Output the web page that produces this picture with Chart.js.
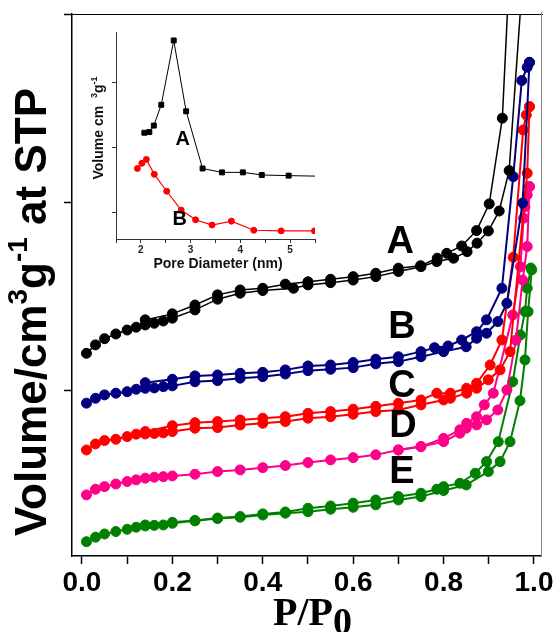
<!DOCTYPE html>
<html>
<head>
<meta charset="utf-8">
<script src="https://cdn.jsdelivr.net/npm/chart.js@4.4.0/dist/chart.umd.min.js"></script>
<style>
  html, body { margin: 0; padding: 0; background: #fff; }
  #wrap { position: relative; width: 557px; height: 632px; }
  #main { position: absolute; left: 0; top: 0; }
  #inset { position: absolute; left: 80px; top: 20px; }
</style>
</head>
<body>
<div id="wrap">
  <canvas id="main" width="557" height="632"></canvas>
  <canvas id="inset" width="240" height="260"></canvas>
</div>
<script>
// N2 isotherms: relative pressure (P/P0) and adsorbed volume, adsorption + desorption branch per sample
const aAdsP = [0.01,0.03,0.05,0.075,0.10,0.12,0.14,0.16,0.18,0.20,0.25,0.30,0.35,0.40,0.468,0.50,0.55,0.60,0.65,0.70,0.75,0.785,0.822,0.852,0.874,0.899,0.923,0.945,0.981];
const aAdsV = [120.0,124.5,127.8,130.3,132.4,133.9,135.1,136.0,137.2,138.7,143.1,148.8,152.0,153.4,154.6,156.4,157.6,159.0,160.8,163.5,166.1,168.8,170.6,174.1,178.6,185.1,195.7,217.2,340];
const aDesP = [0.949,0.93,0.901,0.873,0.84,0.807,0.786,0.749,0.70,0.65,0.60,0.55,0.50,0.45,0.40,0.35,0.30,0.25,0.20,0.14];
const aDesV = [340,245.1,199.5,185.3,177.1,173.2,170.6,166.6,165.3,162.6,160.8,159.4,158.1,156.8,154.6,153.7,151.1,145.7,141.0,137.8];

const bAdsP = [0.01,0.03,0.05,0.075,0.10,0.12,0.14,0.16,0.18,0.20,0.25,0.30,0.35,0.40,0.45,0.50,0.55,0.60,0.65,0.70,0.75,0.80,0.85,0.873,0.895,0.92,0.94,0.975,0.99];
const bAdsV = [93.5,96.1,97.9,98.8,99.6,100.9,101.4,101.6,102.3,102.7,104.9,105.5,106.8,107.6,109.0,110.8,111.5,112.4,114.4,115.6,118.2,120.9,123.5,128.0,130.7,136.9,146.6,200,274.8];
const bDesP = [0.99,0.985,0.973,0.954,0.929,0.895,0.873,0.84,0.81,0.78,0.75,0.70,0.65,0.60,0.55,0.50,0.45,0.40,0.35,0.30,0.25,0.20,0.14];
const bDesV = [274.8,272.2,265.1,214.0,154.6,137.8,131.5,127.1,123.9,123.0,120.9,118.2,116.9,115.1,113.8,113.3,111.2,109.9,109.4,108.5,108.0,106.2,104.4];

const cAdsP = [0.01,0.03,0.05,0.075,0.10,0.12,0.14,0.16,0.18,0.20,0.25,0.30,0.35,0.40,0.45,0.50,0.55,0.60,0.65,0.70,0.75,0.80,0.815,0.851,0.873,0.899,0.925,0.947,0.985,0.99];
const cAdsV = [68.6,71.8,73.6,74.3,75.7,77.0,77.1,77.4,77.7,78.4,80.2,80.5,81.9,82.8,83.7,85.5,86.3,87.6,89.0,89.9,92.6,95.2,96.1,98.8,101.4,105.9,111.2,120.9,215.8,251.2];
const cDesP = [0.99,0.983,0.976,0.954,0.929,0.903,0.873,0.851,0.815,0.785,0.75,0.70,0.65,0.60,0.55,0.50,0.45,0.40,0.35,0.30,0.25,0.20,0.14];
const cDesV = [251.2,246.8,238.8,171.1,127.1,113.8,104.1,101.4,98.8,98.8,95.2,93.4,91.8,90.3,89.0,88.1,86.3,85.5,84.6,83.7,83.1,81.5,78.4];

const dAdsP = [0.01,0.03,0.05,0.075,0.10,0.12,0.14,0.16,0.18,0.20,0.25,0.30,0.35,0.40,0.45,0.50,0.55,0.60,0.65,0.70,0.75,0.80,0.836,0.85,0.873,0.895,0.92,0.94,0.96,0.975,0.985,0.99];
const dAdsV = [44.7,47.7,49.1,50.5,51.8,52.7,53.6,54.1,54.4,54.8,55.7,57.1,58.0,59.2,60.3,61.9,63.3,64.5,66.0,68.6,70.4,73.0,77.5,80.2,81.9,84.6,89.9,100.5,127,159,176.8,208.7];
const dDesP = [0.99,0.985,0.98,0.977,0.97,0.953,0.91,0.89,0.873,0.851,0.836,0.80,0.75,0.70];
const dDesV = [208.7,204.3,198.0,191.9,166.1,140.4,98.8,92.6,86.3,82.8,79.3,74.8,70.4,68.6];

const eAdsP = [0.01,0.03,0.05,0.075,0.10,0.12,0.14,0.16,0.18,0.20,0.25,0.30,0.35,0.40,0.45,0.50,0.55,0.60,0.65,0.70,0.75,0.80,0.85,0.899,0.925,0.947,0.969,0.98,0.987,0.995];
const eAdsV = [19.8,22.2,23.9,25.2,26.4,27.5,28.2,28.5,28.7,29.6,30.9,32.1,32.8,34.0,35.0,35.8,37.1,38.1,39.4,42.0,43.8,47.0,50.0,57.1,62.4,73.0,94.8,116.5,142.2,164.4];
const eDesP = [0.993,0.985,0.98,0.97,0.953,0.921,0.895,0.87,0.836,0.80,0.785,0.75,0.70,0.65,0.60,0.55,0.50,0.45,0.40,0.35,0.30,0.25,0.20,0.14];
const eDesV = [165.4,154.6,142.2,129.8,104.9,73.0,62.4,56.2,50.9,49.1,47.7,45.6,43.8,42.0,40.3,38.8,37.6,35.6,34.6,33.2,32.4,31.1,30.1,28.7];

const sampleNames = ['A', 'B', 'C', 'D', 'E'];
const sampleColors = ['#000000', '#000080', '#ff0000', '#ff0088', '#008000'];
const labelP = [0.704, 0.708, 0.708, 0.71, 0.708];
const labelV = [178.7, 134.0, 102.1, 80.9, 56.4];

const xTicks = [0, 0.1, 0.2, 0.3, 0.4, 0.5, 0.6, 0.7, 0.8, 0.9, 1.0];
const yTicks = [100, 200, 300];

// pore size distribution (inset)
const poreA = [2.07, 2.17, 2.26, 2.41, 2.66, 2.91, 3.24, 3.63, 4.05, 4.43, 4.97, 5.7];
const psdA  = [1.23, 1.24, 1.34, 1.66, 2.65, 1.56, 0.68, 0.62, 0.62, 0.58, 0.57, 0.56];
const poreB = [1.93, 2.02, 2.11, 2.27, 2.52, 2.81, 3.10, 3.43, 3.82, 4.27, 4.82, 5.49];
const psdB  = [0.68, 0.76, 0.82, 0.59, 0.33, 0.04, -0.11, -0.19, -0.13, -0.27, -0.28, -0.28];
const insetXTicks = [1.5, 2, 2.5, 3, 3.5, 4, 4.5, 5, 5.5];
const insetYTicks = [0, 1, 2];
const insetLabelX = [2.84, 2.78];
const insetLabelY = [1.12, -0.11];

const SANS = '"Liberation Sans", Arial, sans-serif';
const SERIF = '"Liberation Serif", "Times New Roman", serif';

Chart.defaults.font.family = SANS;
Chart.defaults.color = '#000';

const pts = (xs, ys) => xs.map((x, i) => ({ x: x, y: ys[i] }));

function lineSet(data, color, width, radius, style) {
    return {
        data: data,
        showLine: true,
        borderColor: color,
        backgroundColor: color,
        borderWidth: width,
        pointRadius: radius,
        pointStyle: style || 'circle',
        pointBackgroundColor: color,
        pointBorderColor: color,
        pointBorderWidth: 1
    };
}

// draws text pieces one after another (for super/subscripts)
function drawParts(ctx, parts, x, y) {
    let cx = x;
    parts.forEach(p => {
        ctx.font = p.font;
        ctx.fillText(p.t, cx, y + (p.dy || 0));
        cx += ctx.measureText(p.t).width;
    });
}
function partsWidth(ctx, parts) {
    let w = 0;
    parts.forEach(p => { ctx.font = p.font; w += ctx.measureText(p.t).width; });
    return w;
}

const branches = [
    [aAdsP, aAdsV, aDesP, aDesV],
    [bAdsP, bAdsV, bDesP, bDesV],
    [cAdsP, cAdsV, cDesP, cDesV],
    [dAdsP, dAdsV, dDesP, dDesV],
    [eAdsP, eAdsV, eDesP, eDesV]
];
const mainSets = [];
branches.forEach((b, i) => {
    const w = i === 0 ? 1.5 : 2;
    mainSets.push(lineSet(pts(b[0], b[1]), sampleColors[i], w, 5));
    mainSets.push(lineSet(pts(b[2], b[3]), sampleColors[i], w, 5));
});

const mainText = {
    id: 'mainText',
    afterDraw(chart) {
        const { ctx, chartArea: a, scales: { x, y } } = chart;
        ctx.save();
        // top and right frame
        ctx.lineWidth = 1;
        ctx.strokeStyle = '#000';
        ctx.beginPath(); ctx.moveTo(a.left, a.top + 0.5); ctx.lineTo(a.right + 2, a.top + 0.5); ctx.stroke();
        ctx.strokeStyle = '#888';
        ctx.beginPath(); ctx.moveTo(a.right + 0.5, a.top - 2); ctx.lineTo(a.right + 0.5, a.bottom); ctx.stroke();

        // sample labels
        ctx.fillStyle = '#000';
        ctx.font = 'bold 38px ' + SANS;
        ctx.textAlign = 'center';
        ctx.textBaseline = 'middle';
        sampleNames.forEach((n, i) => {
            ctx.fillText(n, x.getPixelForValue(labelP[i]), y.getPixelForValue(labelV[i]));
        });

        // y title
        ctx.textAlign = 'left';
        ctx.textBaseline = 'alphabetic';
        const big = 'bold 44px ' + SANS, sup = 'bold 28px ' + SANS;
        const yParts = [
            { t: 'Volume/cm', font: big },
            { t: '3', font: sup, dy: -19 },
            { t: 'g', font: big },
            { t: '-1', font: sup, dy: -19 },
            { t: ' at STP', font: big }
        ];
        ctx.save();
        ctx.translate(46, 312);
        ctx.rotate(-Math.PI / 2);
        drawParts(ctx, yParts, -partsWidth(ctx, yParts) / 2, 0);
        ctx.restore();

        // x title P/P0
        drawParts(ctx, [
            { t: 'P/P', font: 'bold 40px ' + SERIF },
            { t: '0', font: 'bold 38px ' + SERIF, dy: 9 }
        ], 273, 625);
        ctx.restore();
    }
};

new Chart(document.getElementById('main'), {
    type: 'scatter',
    data: { datasets: mainSets },
    options: {
        responsive: false,
        animation: false,
        layout: { padding: { top: 14, right: 16, left: 0, bottom: 0 } },
        plugins: { legend: { display: false }, tooltip: { enabled: false } },
        elements: { line: { tension: 0 } },
        scales: {
            x: {
                type: 'linear',
                min: -0.022,
                max: 1.0155,
                afterBuildTicks: s => { s.ticks = xTicks.map(v => ({ value: v })); },
                afterFit: s => { s.height = 76; },
                border: { color: '#000', width: 1.5 },
                grid: { drawOnChartArea: false, drawTicks: true, tickLength: 8, tickWidth: 1.5, tickColor: '#000' },
                ticks: {
                    padding: 2,
                    font: { size: 28, weight: 'bold' },
                    color: '#000',
                    maxRotation: 0,
                    autoSkip: false,
                    callback: (v, i) => (i % 2 === 0 ? v.toFixed(1) : '')
                }
            },
            y: {
                type: 'linear',
                min: 12.2,
                max: 300.5,
                afterBuildTicks: s => { s.ticks = yTicks.map(v => ({ value: v })); },
                afterFit: s => { s.width = 72; },
                border: { color: '#000', width: 1.5 },
                grid: { drawOnChartArea: false, drawTicks: true, tickLength: 8, tickWidth: 1.5, tickColor: '#000' },
                ticks: { display: false }
            }
        }
    },
    plugins: [mainText]
});

const insetText = {
    id: 'insetText',
    afterDraw(chart) {
        const { ctx, scales: { x, y } } = chart;
        ctx.save();
        ctx.fillStyle = '#000';
        ctx.font = 'bold 20px ' + SANS;
        ctx.textAlign = 'center';
        ctx.textBaseline = 'middle';
        ['A', 'B'].forEach((n, i) => {
            ctx.fillText(n, x.getPixelForValue(insetLabelX[i]), y.getPixelForValue(insetLabelY[i]));
        });

        ctx.fillStyle = '#111';
        ctx.textBaseline = 'alphabetic';
        ctx.font = 'bold 14px ' + SANS;
        ctx.fillText('Pore Diameter (nm)', 138, 248);

        ctx.textAlign = 'left';
        const t = 'bold 14px ' + SANS, s = 'bold 9px ' + SANS;
        const parts = [
            { t: 'Volume cm  ', font: t },
            { t: '3', font: s, dy: -6 },
            { t: 'g', font: t },
            { t: '-1', font: s, dy: -6 }
        ];
        ctx.translate(23, 108);
        ctx.rotate(-Math.PI / 2);
        drawParts(ctx, parts, -partsWidth(ctx, parts) / 2, 0);
        ctx.restore();
    }
};

new Chart(document.getElementById('inset'), {
    type: 'scatter',
    data: {
        datasets: [
            lineSet(pts(poreA, psdA), '#000000', 1, 3.5, 'rect'),
            lineSet(pts(poreB, psdB), '#ff0000', 1.2, 3)
        ]
    },
    options: {
        responsive: false,
        animation: false,
        layout: { padding: { top: 12, right: 4, left: 0, bottom: 0 } },
        plugins: { legend: { display: false }, tooltip: { enabled: false } },
        elements: { line: { tension: 0 } },
        scales: {
            x: {
                type: 'linear',
                min: 1.5,
                max: 5.5,
                afterBuildTicks: s => { s.ticks = insetXTicks.map(v => ({ value: v })); },
                afterFit: s => { s.height = 41; },
                border: { color: '#333', width: 1 },
                grid: { drawOnChartArea: false, drawTicks: true, tickLength: 4, tickColor: '#333' },
                ticks: {
                    padding: 1,
                    font: { size: 10, weight: 'bold' },
                    color: '#222',
                    maxRotation: 0,
                    autoSkip: false,
                    callback: v => (Number.isInteger(v) ? String(v) : '')
                }
            },
            y: {
                type: 'linear',
                min: -0.405,
                max: 2.78,
                afterBuildTicks: s => { s.ticks = insetYTicks.map(v => ({ value: v })); },
                afterFit: s => { s.width = 36; },
                border: { color: '#333', width: 1 },
                grid: { drawOnChartArea: false, drawTicks: true, tickLength: 4, tickColor: '#333' },
                ticks: { display: false }
            }
        }
    },
    plugins: [insetText]
});
</script>
</body>
</html>
